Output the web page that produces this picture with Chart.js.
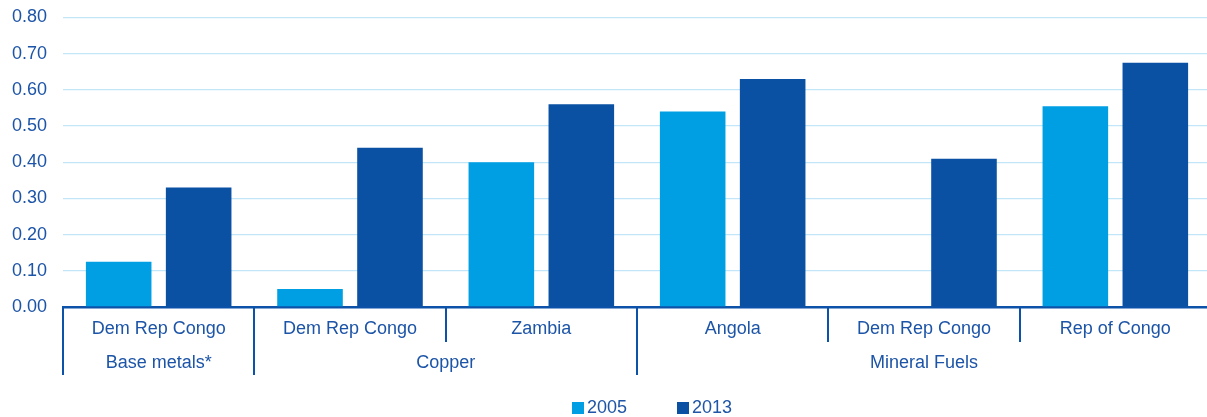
<!DOCTYPE html>
<html>
<head>
<meta charset="utf-8">
<script src="https://cdn.jsdelivr.net/npm/chart.js@4"></script>
<style>
  html, body { margin: 0; padding: 0; background: #ffffff; }
  #wrap { position: relative; width: 1207px; height: 417px; overflow: hidden; }
  #c { position: absolute; left: 0; top: 0; }
  #legend { position: absolute; left: 572px; top: 397px; display: flex; align-items: center;
            font-family: 'Liberation Sans', Arial, sans-serif; font-size: 18px; line-height: 21px; color: #1f55a6; }
  #legend .item { display: flex; align-items: center; margin-right: 50px; }
  #legend .box { width: 12px; height: 12px; margin-right: 3px; margin-top: 1px; }
</style>
</head>
<body>
<div id="wrap">
  <canvas id="c" width="1211" height="417"></canvas>
  <div id="legend"></div>
</div>
<script>
// ---- data ----
const categories = ['Dem Rep Congo', 'Dem Rep Congo', 'Zambia', 'Angola', 'Dem Rep Congo', 'Rep of Congo'];
const groups = ['Base metals*', 'Copper', 'Mineral Fuels'];
const groupSizes = [1, 2, 3];
const seriesLabels = ['2005', '2013'];
const values2005 = [0.125, 0.05, 0.40, 0.54, null, 0.555];
const values2013 = [0.33, 0.44, 0.56, 0.63, 0.41, 0.675];
const yMin = 0, yMax = 0.8, yStep = 0.1;

// ---- styles ----
const LIGHT = '#009fe3';
const DARK = '#0a50a3';
const TEXT = '#1c54a7';
const AXIS = '#0b52a8';
const GRID = '#c2e6f7';
const FONT = { family: "'Liberation Sans', Arial, sans-serif", size: 18 };
const seriesColors = [LIGHT, DARK];

// group label positions and boundaries (category-index units)
const groupCenters = [];
const groupBoundaries = new Set([0]);
let acc = 0;
groupSizes.forEach((s) => {
  groupCenters.push(acc + s / 2 - 0.5);
  acc += s;
  groupBoundaries.add(acc);
});

const separatorPlugin = {
  id: 'separators',
  afterDraw(chart) {
    const x = chart.scales.x;
    const ctx = chart.ctx;
    ctx.save();
    ctx.strokeStyle = AXIS;
    ctx.lineWidth = 2;
    for (let b = 0; b <= categories.length; b++) {
      const px = Math.round(x.getPixelForValue(b - 0.5));
      const len = groupBoundaries.has(b) ? 68 : 35;
      ctx.beginPath();
      ctx.moveTo(px, x.top);
      ctx.lineTo(px, x.top + len);
      ctx.stroke();
    }
    ctx.restore();
  }
};

Chart.defaults.font.family = FONT.family;
Chart.defaults.font.size = FONT.size;
Chart.defaults.color = TEXT;

const chart = new Chart(document.getElementById('c'), {
  type: 'bar',
  data: {
    labels: categories,
    datasets: [
      { label: seriesLabels[0], data: values2005, backgroundColor: seriesColors[0], borderWidth: 0 },
      { label: seriesLabels[1], data: values2013, backgroundColor: seriesColors[1], borderWidth: 0 }
    ]
  },
  plugins: [separatorPlugin],
  options: {
    responsive: false,
    animation: false,
    categoryPercentage: 0.836,
    barPercentage: 0.82,
    layout: { padding: { top: 17.5, left: 0, right: 0, bottom: 43 } },
    plugins: {
      tooltip: { enabled: false },
      legend: { display: false }
    },
    scales: {
      y: {
        min: yMin,
        max: yMax,
        border: { display: false },
        grid: { color: GRID, lineWidth: 1.3, drawTicks: true, tickLength: 16, tickColor: 'rgba(0,0,0,0)' },
        ticks: {
          stepSize: yStep,
          padding: 0,
          color: TEXT,
          font: FONT,
          callback: (v) => Number(v).toFixed(2)
        },
        afterFit: (scale) => { scale.width = 63; }
      },
      x: {
        type: 'category',
        position: 'bottom',
        weight: 0,
        offset: true,
        border: { display: true, color: AXIS, width: 2.5 },
        grid: { display: true, offset: true, drawOnChartArea: false, drawTicks: false },
        ticks: {
          padding: 11.7,
          autoSkip: false,
          maxRotation: 0,
          minRotation: 0,
          color: TEXT,
          font: FONT
        }
      },
      x2: {
        type: 'linear',
        axis: 'x',
        position: 'bottom',
        weight: 1,
        offset: false,
        min: -0.5,
        max: categories.length - 0.5,
        border: { display: false },
        grid: { display: false, offset: false, drawOnChartArea: false, drawTicks: false },
        afterBuildTicks: (scale) => {
          scale.ticks = groupCenters.map(v => ({ value: v }));
        },
        ticks: {
          padding: 0.2,
          autoSkip: false,
          maxRotation: 0,
          minRotation: 0,
          color: TEXT,
          font: FONT,
          callback: (v) => {
            const i = groupCenters.findIndex(c => Math.abs(c - v) < 1e-6);
            return i >= 0 ? groups[i] : '';
          }
        }
      }
    }
  }
});

// legend (built from the chart's datasets)
const legendEl = document.getElementById('legend');
chart.data.datasets.forEach((ds) => {
  const item = document.createElement('div');
  item.className = 'item';
  const box = document.createElement('span');
  box.className = 'box';
  box.style.background = ds.backgroundColor;
  const label = document.createElement('span');
  label.textContent = ds.label;
  item.appendChild(box);
  item.appendChild(label);
  legendEl.appendChild(item);
});
</script>
</body>
</html>
